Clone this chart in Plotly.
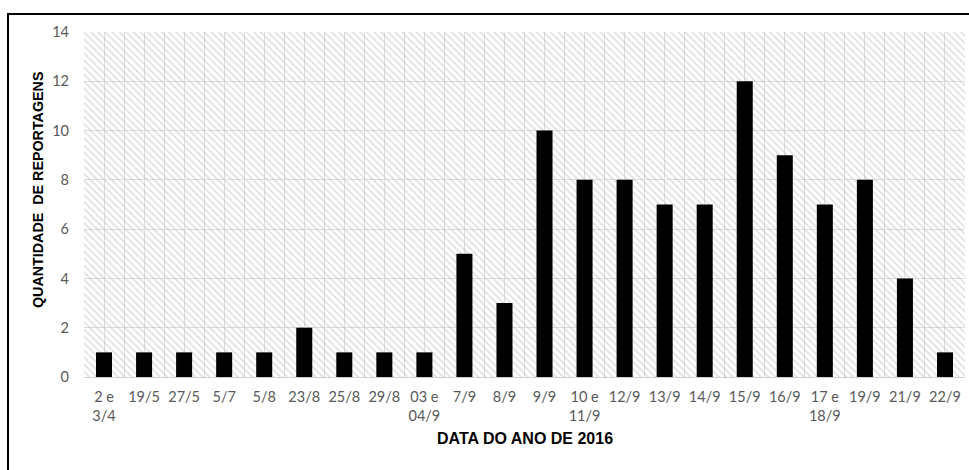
import plotly.graph_objects as go

categories = ["2 e<br>3/4", "19/5", "27/5", "5/7", "5/8", "23/8", "25/8", "29/8",
              "03 e<br>04/9", "7/9", "8/9", "9/9", "10 e<br>11/9", "12/9", "13/9",
              "14/9", "15/9", "16/9", "17 e<br>18/9", "19/9", "21/9", "22/9"]
reportagens = [1, 1, 1, 1, 1, 2, 1, 1, 1, 5, 3, 10, 8, 8, 7, 7, 12, 9, 7, 8, 4, 1]
y_max = 14
y_ticks = [0, 2, 4, 6, 8, 10, 12, 14]

positions = list(range(len(categories)))
n = len(categories)

fig = go.Figure()

# hatched plot-area background
fig.add_trace(go.Bar(
    x=[(n - 1) / 2], y=[y_max], base=[0], width=[n],
    marker=dict(color="rgba(0,0,0,0)", line=dict(width=0),
                pattern=dict(shape="\\", fgcolor="#bdbdbd", bgcolor="rgba(0,0,0,0)",
                             size=5, solidity=0.3)),
    hoverinfo="skip", showlegend=False,
))

fig.add_trace(go.Bar(
    x=positions, y=reportagens, width=0.4,
    marker=dict(color="#000000", line=dict(width=0)),
    showlegend=False,
))

fig.update_layout(
    width=969, height=470,
    margin=dict(l=84, r=4, t=32, b=93),
    paper_bgcolor="white", plot_bgcolor="white",
    barmode="overlay",
    font=dict(family="Lato, sans-serif", size=14.5, color="#595959"),
    xaxis=dict(
        range=[-0.5, n - 0.5],
        tickmode="array", tickvals=positions, ticktext=categories,
        showgrid=True, gridcolor="#dcdcdc", gridwidth=1,
        minor=dict(tickmode="array", tickvals=[p - 0.5 for p in positions] + [n - 0.5],
                   showgrid=True, gridcolor="#dcdcdc", gridwidth=1),
        showline=True, linecolor="#d0d0d0", linewidth=1,
        ticks="", ticklabelstandoff=7,
        zeroline=False,
        fixedrange=True,
    ),
    yaxis=dict(
        range=[0, y_max],
        tickmode="array", tickvals=y_ticks,
        showgrid=True, gridcolor="#dcdcdc", gridwidth=1,
        zeroline=False, ticks="", ticklabelstandoff=14,
        fixedrange=True,
    ),
    annotations=[
        dict(text="<b>DATA DO ANO DE 2016</b>", xref="paper", yref="paper",
             x=0.5, y=(377 - 438) / 345, xanchor="center", yanchor="middle", showarrow=False,
             font=dict(family="Liberation Sans, Arial", size=16, color="#000000")),
        dict(text="<b>QUANTIDADE  DE REPORTAGENS</b>", xref="paper", yref="paper",
             x=(38 - 84) / 881, y=(377 - 190) / 345, xanchor="center", yanchor="middle",
             textangle=-90, showarrow=False,
             font=dict(family="Liberation Sans, Arial", size=14.3, color="#000000")),
    ],
    shapes=[
        dict(type="rect", xref="paper", yref="paper",
             x0=(8 - 84) / 881, x1=1.2, y0=-0.6, y1=(377 - 14) / 345,
             line=dict(color="#000000", width=2), fillcolor="rgba(0,0,0,0)", layer="above"),
    ],
)

fig.write_html("out.html", config={"displayModeBar": False},
               post_script="document.body.style.margin='0';document.body.style.overflow='hidden';")
